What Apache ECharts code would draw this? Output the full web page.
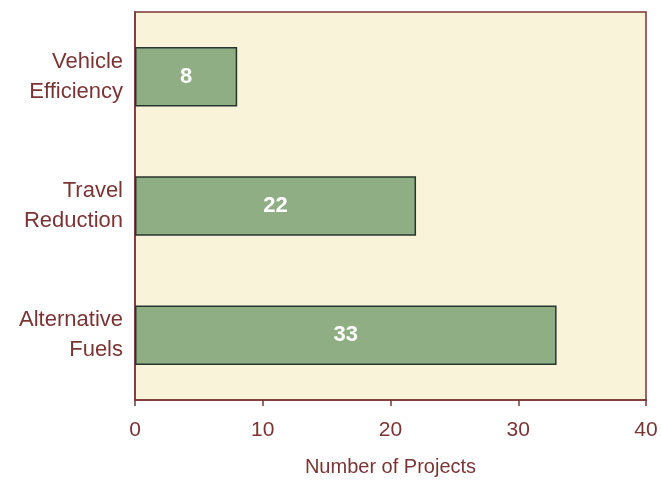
<!DOCTYPE html>
<html>
<head>
<meta charset="utf-8">
<title>Number of Projects</title>
<script src="https://cdn.jsdelivr.net/npm/echarts@6/dist/echarts.min.js"></script>
<style>
  html, body { margin: 0; padding: 0; background: #fff; }
  #main { width: 661px; height: 480px; }
</style>
</head>
<body>
<div id="main"></div>
<script>
// categories, bottom to top
var categories = ['Alternative\nFuels', 'Travel\nReduction', 'Vehicle\nEfficiency'];
var projects = [33, 22, 8];
var xTicks = [0, 10, 20, 30, 40];

var textColor = '#7b3434';
var chart = echarts.init(document.getElementById('main'));

var option = {
  animation: false,
  textStyle: { fontFamily: 'Liberation Sans, Arial, sans-serif' },
  grid: {
    left: 135, right: 15, top: 12, bottom: 80,
    outerBoundsMode: 'none',
    containLabel: false,
    show: true,
    backgroundColor: '#f9f4d9',
    borderColor: textColor,
    borderWidth: 1.5
  },
  xAxis: {
    type: 'value',
    min: xTicks[0],
    max: xTicks[xTicks.length - 1],
    interval: 10,
    name: 'Number of Projects',
    nameLocation: 'middle',
    nameGap: 57,
    nameTextStyle: { color: textColor, fontSize: 20 },
    axisLine: { show: true, lineStyle: { color: textColor, width: 1.5 } },
    axisTick: { show: true, length: 6, lineStyle: { color: textColor, width: 1.5 } },
    axisLabel: { color: textColor, fontSize: 21, margin: 20 },
    splitLine: { show: false }
  },
  yAxis: {
    type: 'category',
    data: categories,
    axisLine: { show: true, lineStyle: { color: textColor, width: 1.5 } },
    axisTick: { show: false },
    axisLabel: { color: textColor, fontSize: 22, lineHeight: 30, align: 'right', margin: 12 }
  },
  series: [{
    type: 'bar',
    data: projects,
    barWidth: '46%',
    itemStyle: { color: '#8fae84', borderColor: '#27362c', borderWidth: 1.5 },
    label: {
      show: true,
      position: 'inside',
      color: '#ffffff',
      fontSize: 22,
      fontWeight: 'bold'
    }
  }]
};

chart.setOption(option);
</script>
</body>
</html>
